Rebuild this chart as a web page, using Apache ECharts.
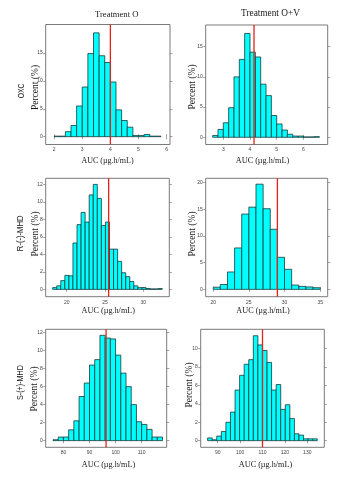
<!DOCTYPE html>
<html><head><meta charset="utf-8">
<script src="https://cdn.jsdelivr.net/npm/echarts@6/dist/echarts.min.js"></script>
<style>html,body{margin:0;padding:0;background:#fff}#c{width:360px;height:480px}</style>
</head><body><div id="c"></div><script>
// ---- DATA (percent per bin) ----
const columnTitles = ['Treatment O', 'Treatment O+V'];
const rowLabels = ['OXC', 'R-(-)-MHD', 'S-(+)-MHD'];
const xAxisTitle = 'AUC (µg.h/mL)';
const yAxisTitle = 'Percent (%)';

// OXC, Treatment O
const oxcO = [0.1, 0.1, 0.9, 2.0, 5.5, 8.9, 14.9, 18.6, 14.5, 13.3, 9.8, 4.8, 2.9, 1.7, 0.2, 0.2, 0.4, 0.1, 0.1];
const oxcOStart = 2.0, oxcOWidth = 0.2, oxcOMean = 4.0;
const oxcOXTicks = [2, 3, 4, 5, 6], oxcOYTicks = [0, 5, 10, 15];
// OXC, Treatment O+V
const oxcOV = [0.3, 1.3, 2.4, 4.9, 10.0, 12.9, 17.2, 14.1, 13.3, 8.8, 6.9, 3.6, 2.2, 1.2, 0.5, 0.2, 0.2, 0.05, 0.05, 0.1];
const oxcOVStart = 2.6, oxcOVWidth = 0.2, oxcOVMean = 4.15;
const oxcOVXTicks = [3, 4, 5, 6], oxcOVYTicks = [0, 5, 10, 15];
// R-(-)-MHD, Treatment O
const rO = [0.2, 0.4, 1.0, 1.6, 1.55, 5.3, 7.4, 8.8, 7.7, 10.8, 12.0, 10.4, 7.3, 7.7, 4.6, 4.6, 3.2, 1.9, 1.45, 0.9, 0.4, 0.2, 0.2, 0.1, 0.05, 0.05, 0.1];
const rOStart = 18.17, rOWidth = 0.53, rOMean = 25.48;
const rOXTicks = [20, 25, 30], rOYTicks = [0, 2, 4, 6, 8, 10, 12];
// R-(-)-MHD, Treatment O+V
const rOV = [0.4, 0.9, 3.25, 7.75, 14.1, 15.4, 19.7, 15.1, 11.25, 6.0, 3.75, 0.8, 0.55, 0.45, 0.3];
const rOVStart = 20, rOVWidth = 1, rOVMean = 29.0;
const rOVXTicks = [20, 25, 30, 35], rOVYTicks = [0, 5, 10, 15, 20];
// S-(+)-MHD, Treatment O
const sO = [0.1, 0.4, 0.4, 1.2, 2.2, 4.9, 6.4, 8.4, 9.0, 11.7, 11.4, 11.3, 9.5, 7.5, 6.0, 4.0, 2.1, 1.8, 1.25, 0.4, 0.4];
const sOStart = 76, sOWidth = 2, sOMean = 96.35;
const sOXTicks = [80, 90, 100, 110], sOYTicks = [0, 2, 4, 6, 8, 10, 12];
// S-(+)-MHD, Treatment O+V
const sOV = [0.3, 0.1, 0.5, 1.0, 2.0, 3.1, 5.5, 7.1, 8.3, 8.8, 11.4, 10.4, 9.8, 8.5, 5.5, 6.1, 3.4, 3.9, 2.4, 0.75, 0.6, 0.2, 0.2, 0.2];
const sOVStart = 85.5, sOVWidth = 2.04, sOVMean = 110.0;
const sOVXTicks = [90, 100, 110, 120, 130], sOVYTicks = [0, 2, 4, 6, 8, 10];

// ---- LAYOUT ----
const panels = [
  {h: oxcO,  s: oxcOStart,  w: oxcOWidth,  m: oxcOMean,  xt: oxcOXTicks,  yt: oxcOYTicks,  xr: [1.70, 6.12],   yr: [-1.4, 20.1],  g: [45.7, 24.5, 124.3, 120]},
  {h: oxcOV, s: oxcOVStart, w: oxcOVWidth, m: oxcOVMean, xt: oxcOVXTicks, yt: oxcOVYTicks, xr: [2.34, 6.91],   yr: [-1.2, 18.6],  g: [205.7, 25, 122, 119.5]},
  {h: rO,    s: rOStart,    w: rOWidth,    m: rOMean,    xt: rOXTicks,    yt: rOYTicks,    xr: [17.26, 33.4],  yr: [-0.84, 12.7], g: [45.7, 178.3, 123.6, 118.4]},
  {h: rOV,   s: rOVStart,   w: rOVWidth,   m: rOVMean,   xt: rOVXTicks,   yt: rOVYTicks,   xr: [18.95, 36.05], yr: [-1.38, 20.8], g: [205.7, 178.3, 122, 118.4]},
  {h: sO,    s: sOStart,    w: sOWidth,    m: sOMean,    xt: sOXTicks,    yt: sOYTicks,    xr: [73.2, 119.6],  yr: [-0.74, 12.37], g: [45.7, 329.3, 121, 118]},
  {h: sOV,   s: sOVStart,   w: sOVWidth,   m: sOVMean,   xt: sOVXTicks,   yt: sOVYTicks,   xr: [82.4, 137.6],  yr: [-0.72, 12.1], g: [200.7, 329.3, 123.6, 118]}
];

const FRAME = '#7a7a7a';
const tickStyle = {color: FRAME, width: 0.7};
const grids = [], xAxes = [], yAxes = [], series = [];

panels.forEach((p, i) => {
  grids.push({left: p.g[0], top: p.g[1], width: p.g[2], height: p.g[3], show: true,
    borderColor: FRAME, borderWidth: 1, backgroundColor: 'transparent', containLabel: false});
  ['bottom', 'top'].forEach((pos, k) => {
    xAxes.push({type: 'value', gridIndex: i, position: pos, min: p.xr[0], max: p.xr[1],
      axisLine: {show: false}, splitLine: {show: false},
      axisTick: {show: true, inside: false, length: 2.5, lineStyle: tickStyle, customValues: p.xt},
      axisLabel: {show: k === 0, customValues: p.xt, fontSize: 5, color: '#444', margin: 3,
        fontFamily: 'Liberation Sans, Arial, sans-serif'}});
  });
  ['left', 'right'].forEach((pos, k) => {
    yAxes.push({type: 'value', gridIndex: i, position: pos, min: p.yr[0], max: p.yr[1],
      axisLine: {show: false}, splitLine: {show: false},
      axisTick: {show: true, inside: false, length: 2.5, lineStyle: tickStyle, customValues: p.yt},
      axisLabel: {show: k === 0, customValues: p.yt, fontSize: 5, color: '#444', margin: 3,
        fontFamily: 'Liberation Sans, Arial, sans-serif'}});
  });
  series.push({
    type: 'custom', xAxisIndex: 2 * i, yAxisIndex: 2 * i,
    data: p.h.map((v, k) => [p.s + k * p.w, p.s + (k + 1) * p.w, v]),
    encode: {x: [0, 1], y: 2},
    renderItem: (params, api) => {
      const a = api.coord([api.value(0), 0]);
      const b = api.coord([api.value(1), api.value(2)]);
      return {type: 'rect', shape: {x: a[0], y: b[1], width: b[0] - a[0], height: a[1] - b[1]},
        style: {fill: '#00ffff', stroke: '#173a3a', lineWidth: 0.8}};
    }
  });
  series.push({
    type: 'line', xAxisIndex: 2 * i, yAxisIndex: 2 * i, symbol: 'none', z: 5,
    data: [[p.m, p.yr[0]], [p.m, p.yr[1]]],
    lineStyle: {color: '#e2231a', width: 1.3}
  });
});

const SERIF = 'Liberation Serif, Times New Roman, serif';
const SANS = 'Liberation Sans, Arial, sans-serif';
function txt(text, x, y, size, family, rot, sx) {
  return {type: 'text', x: x, y: y, rotation: rot || 0, scaleX: sx || 1,
    style: {text: text, font: size + 'px ' + family, fill: '#1a1a1a',
      align: 'center', verticalAlign: 'middle', textAlign: 'center', textVerticalAlign: 'middle'}};
}
const R = Math.PI / 2;
const graphics = [
  txt(columnTitles[0], 116.7, 14.5, 8.6, SERIF),
  txt(columnTitles[1], 270.5, 13.8, 9.3, SERIF),
  txt(xAxisTitle, 107.5, 161, 8, SERIF),
  txt(xAxisTitle, 262.5, 161, 8.2, SERIF),
  txt(xAxisTitle, 108.3, 310.5, 8.2, SERIF),
  txt(xAxisTitle, 263, 310.5, 8.2, SERIF),
  txt(xAxisTitle, 108.5, 465, 8.2, SERIF),
  txt(xAxisTitle, 265.5, 465, 8.2, SERIF),
  txt(yAxisTitle, 35, 87.5, 9.5, SERIF, R),
  txt(yAxisTitle, 192.5, 87, 9.5, SERIF, R),
  txt(yAxisTitle, 35, 234, 9.5, SERIF, R),
  txt(yAxisTitle, 192.5, 234, 9.5, SERIF, R),
  txt(yAxisTitle, 34, 389, 9.5, SERIF, R),
  txt(yAxisTitle, 189, 385, 9.5, SERIF, R),
  txt(rowLabels[0], 21.7, 91, 9, SANS, R, 0.75),
  txt(rowLabels[1], 20.7, 233.3, 9, SANS, R, 0.85),
  txt(rowLabels[2], 20.7, 382.5, 9, SANS, R, 0.8)
];

const chart = echarts.init(document.getElementById('c'), null, {renderer: 'canvas'});
chart.setOption({
  animation: false,
  backgroundColor: '#ffffff',
  grid: grids, xAxis: xAxes, yAxis: yAxes, series: series,
  graphic: graphics
});
</script></body></html>
